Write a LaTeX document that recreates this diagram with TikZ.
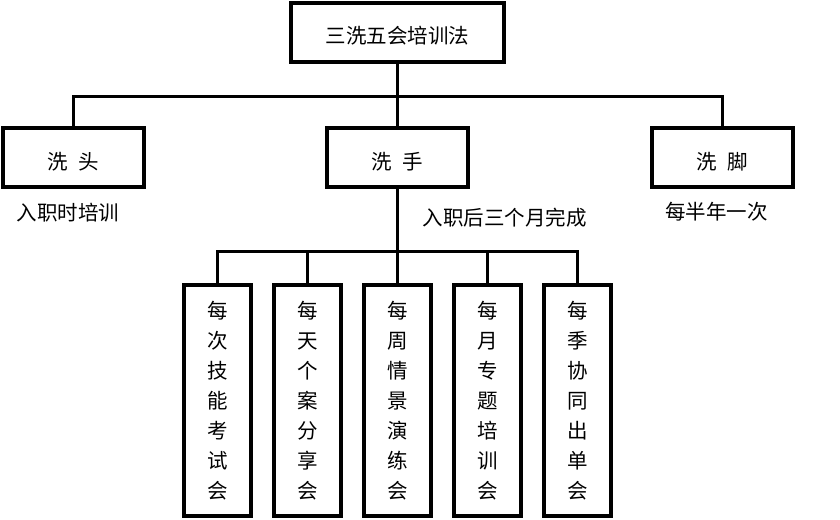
\documentclass[tikz,border=0pt]{standalone}
\usepackage{fontspec}
\setmainfont{Noto Sans CJK SC}
\begin{document}
\begin{tikzpicture}[x=1pt,y=-1pt,
                box/.style={draw,line width=4pt,inner sep=0pt,font=\fontsize{20.5}{24}\selectfont},
                rootbox/.style={box,minimum width=213pt,minimum height=59pt,text height=23pt,text depth=0pt},
                partbox/.style={box,minimum width=141pt,minimum height=59pt,text height=23pt,text depth=0pt},
                stepbox/.style={box,minimum width=67pt,minimum height=231pt,align=center,font=\fontsize{20.5}{30}\selectfont},
                note/.style={inner sep=0pt,font=\fontsize{20.5}{24}\selectfont},
                link/.style={line width=3pt}]
                \useasboundingbox (0,0) rectangle (840,519);
                \node[rootbox] (root) at (397.5,32.5) {三洗五会培训法};
                \node[partbox] (tou) at (73.5,157.5) {洗\enspace 头};
                \node[partbox] (shou) at (397.5,157.5) {洗\enspace 手};
                \node[partbox] (jiao) at (722,157.5) {洗\enspace 脚};
                \node[note] (toutime) at (68,213) {入职时培训};
                \node[note] (shoutime) at (504.5,218) {入职后三个月完成};
                \node[note] (jiaotime) at (716.5,212) {每半年一次};
                \coordinate (bus1) at (397.5,96);
                \coordinate (bus2) at (397.5,251);
                \draw[link] (root.south) -- (bus1);
                \draw[link] (bus1) -| (tou.north);
                \draw[link] (bus1) -| (jiao.north);
                \draw[link] (bus1) -- (shou.north);
                \draw[link] (shou.south) -- (bus2);
                \foreach \i/\t in {0/{每\\次\\技\\能\\考\\试\\会},1/{每\\天\\个\\案\\分\\享\\会},2/{每\\周\\情\\景\\演\\练\\会},3/{每\\月\\专\\题\\培\\训\\会},4/{每\\季\\协\\同\\出\\单\\会}}{
                    \node[stepbox] (meet\i) at (217.5+90*\i,400.5) {\t};
                    \draw[link] (bus2) -| (meet\i.north);
                }
                \end{tikzpicture}
\end{document}
